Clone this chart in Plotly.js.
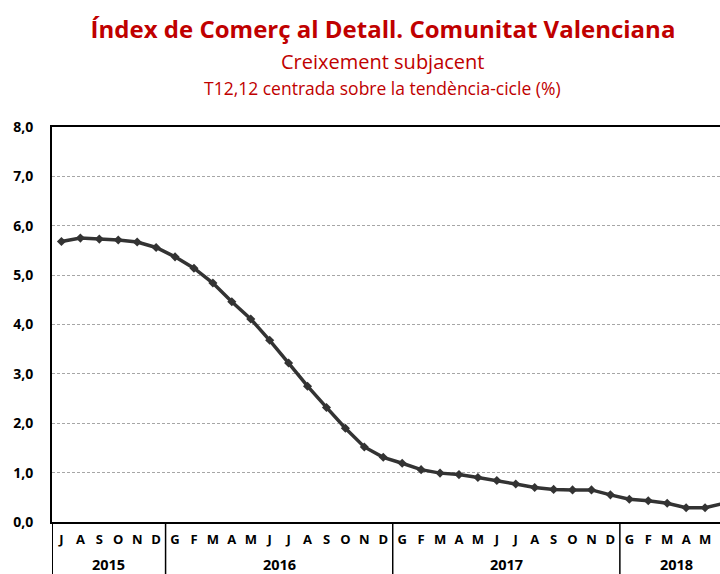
<!DOCTYPE html>
<html>
<head>
<meta charset="utf-8">
<script src="https://cdn.plot.ly/plotly-3.0.1.min.js"></script>
<style>html,body{margin:0;padding:0;background:#fff;overflow:hidden}</style>
</head>
<body>
<div id="chart" style="width:720px;height:574px"></div>
<script>
// ---- data ----
const years = ['2015', '2016', '2017', '2018'];
const monthLetters2015 = ['J','A','S','O','N','D'];
const monthLetters2016 = ['G','F','M','A','M','J','J','A','S','O','N','D'];
const monthLetters2017 = ['G','F','M','A','M','J','J','A','S','O','N','D'];
const monthLetters2018 = ['G','F','M','A','M','J'];
const values2015 = [5.68, 5.75, 5.73, 5.71, 5.67, 5.56];
const values2016 = [5.37, 5.14, 4.84, 4.46, 4.11, 3.68, 3.22, 2.75, 2.32, 1.90, 1.52, 1.31];
const values2017 = [1.19, 1.06, 0.99, 0.96, 0.90, 0.84, 0.77, 0.70, 0.66, 0.65, 0.65, 0.55];
const values2018 = [0.46, 0.43, 0.38, 0.29, 0.29, 0.38];
const yTicks = [0, 1, 2, 3, 4, 5, 6, 7, 8];

const titleText = 'Índex de Comerç al Detall. Comunitat Valenciana';
const subtitleText = 'Creixement subjacent';
const subtitle2Text = 'T12,12 centrada sobre la tendència-cicle (%)';

// ---- build ----
const letterGroups = [monthLetters2015, monthLetters2016, monthLetters2017, monthLetters2018];
const valueGroups = [values2015, values2016, values2017, values2018];
const cats = [], letters = [], vals = [];
letterGroups.forEach((g, gi) => {
  g.forEach((l, i) => {
    cats.push(years[gi] + '-' + (i + 1));
    letters.push(l);
    vals.push(valueGroups[gi][i]);
  });
});

const RED = '#C00000';
const FONT = 'Open Sans, Noto Sans, sans-serif';

const shapes = [];
const annotations = [];
let start = 0;
// left edge extension
shapes.push({type: 'line', xref: 'x', yref: 'paper', x0: -0.5, x1: -0.5, y0: 0, y1: -0.2,
  line: {color: '#000', width: 2}});
letterGroups.forEach((g, gi) => {
  const end = start + g.length;
  annotations.push({xref: 'x', yref: 'paper', x: (start + end - 1) / 2, y: -0.107,
    text: '<b>' + years[gi] + '</b>', showarrow: false, xanchor: 'center', yanchor: 'middle',
    font: {family: FONT, size: 14.5, color: '#000'}});
  if (gi < letterGroups.length - 1) {
    shapes.push({type: 'line', xref: 'x', yref: 'paper', x0: end - 0.5, x1: end - 0.5, y0: 0, y1: -0.2,
      line: {color: '#000', width: 1.5}});
  }
  start = end;
});

annotations.push({xref: 'paper', yref: 'paper', x: 0.4955, y: 1.1646, text: subtitleText,
  showarrow: false, xanchor: 'center', yanchor: 'middle', font: {family: FONT, size: 20, color: RED}});
annotations.push({xref: 'paper', yref: 'paper', x: 0.4955, y: 1.0995, text: subtitle2Text,
  showarrow: false, xanchor: 'center', yanchor: 'middle', font: {family: FONT, size: 17.5, color: RED}});

const trace = {
  x: cats, y: vals, type: 'scatter', mode: 'lines+markers',
  line: {color: '#333333', width: 3.5},
  marker: {symbol: 'diamond', size: 7, color: '#333333'},
  hoverinfo: 'skip'
};

const layout = {
  width: 720, height: 574,
  margin: {l: 52, r: 0, t: 127, b: 52},
  paper_bgcolor: '#fff', plot_bgcolor: '#fff',
  separators: ',.',
  showlegend: false,
  font: {family: FONT, color: '#000'},
  title: {text: '<b>' + titleText + '</b>', xref: 'container', x: 383 / 720, xanchor: 'center',
    yref: 'container', y: 1 - 30 / 574, yanchor: 'middle',
    font: {family: FONT, size: 24, color: RED}},
  xaxis: {
    type: 'category', range: [-0.5, 34.79], fixedrange: true,
    tickmode: 'array', tickvals: cats, ticktext: letters,
    tickfont: {family: FONT, size: 13, color: '#000', weight: 'bold'},
    ticks: '', ticklabelstandoff: 4,
    showgrid: false, zeroline: false,
    showline: true, linecolor: '#000', linewidth: 2, mirror: true
  },
  yaxis: {
    range: [0, 8], tickmode: 'array', tickvals: yTicks, tickformat: '.1f', fixedrange: true,
    tickfont: {family: FONT, size: 14, color: '#000', weight: 'bold'},
    ticks: '', ticklabelstandoff: 14,
    showgrid: true, gridcolor: '#a6a6a6', griddash: '3px,2px', gridwidth: 1,
    zeroline: false, showline: true, linecolor: '#000', linewidth: 2, mirror: false
  },
  shapes: shapes,
  annotations: annotations
};

Plotly.newPlot('chart', [trace], layout, {displayModeBar: false, staticPlot: true});
</script>
</body>
</html>
